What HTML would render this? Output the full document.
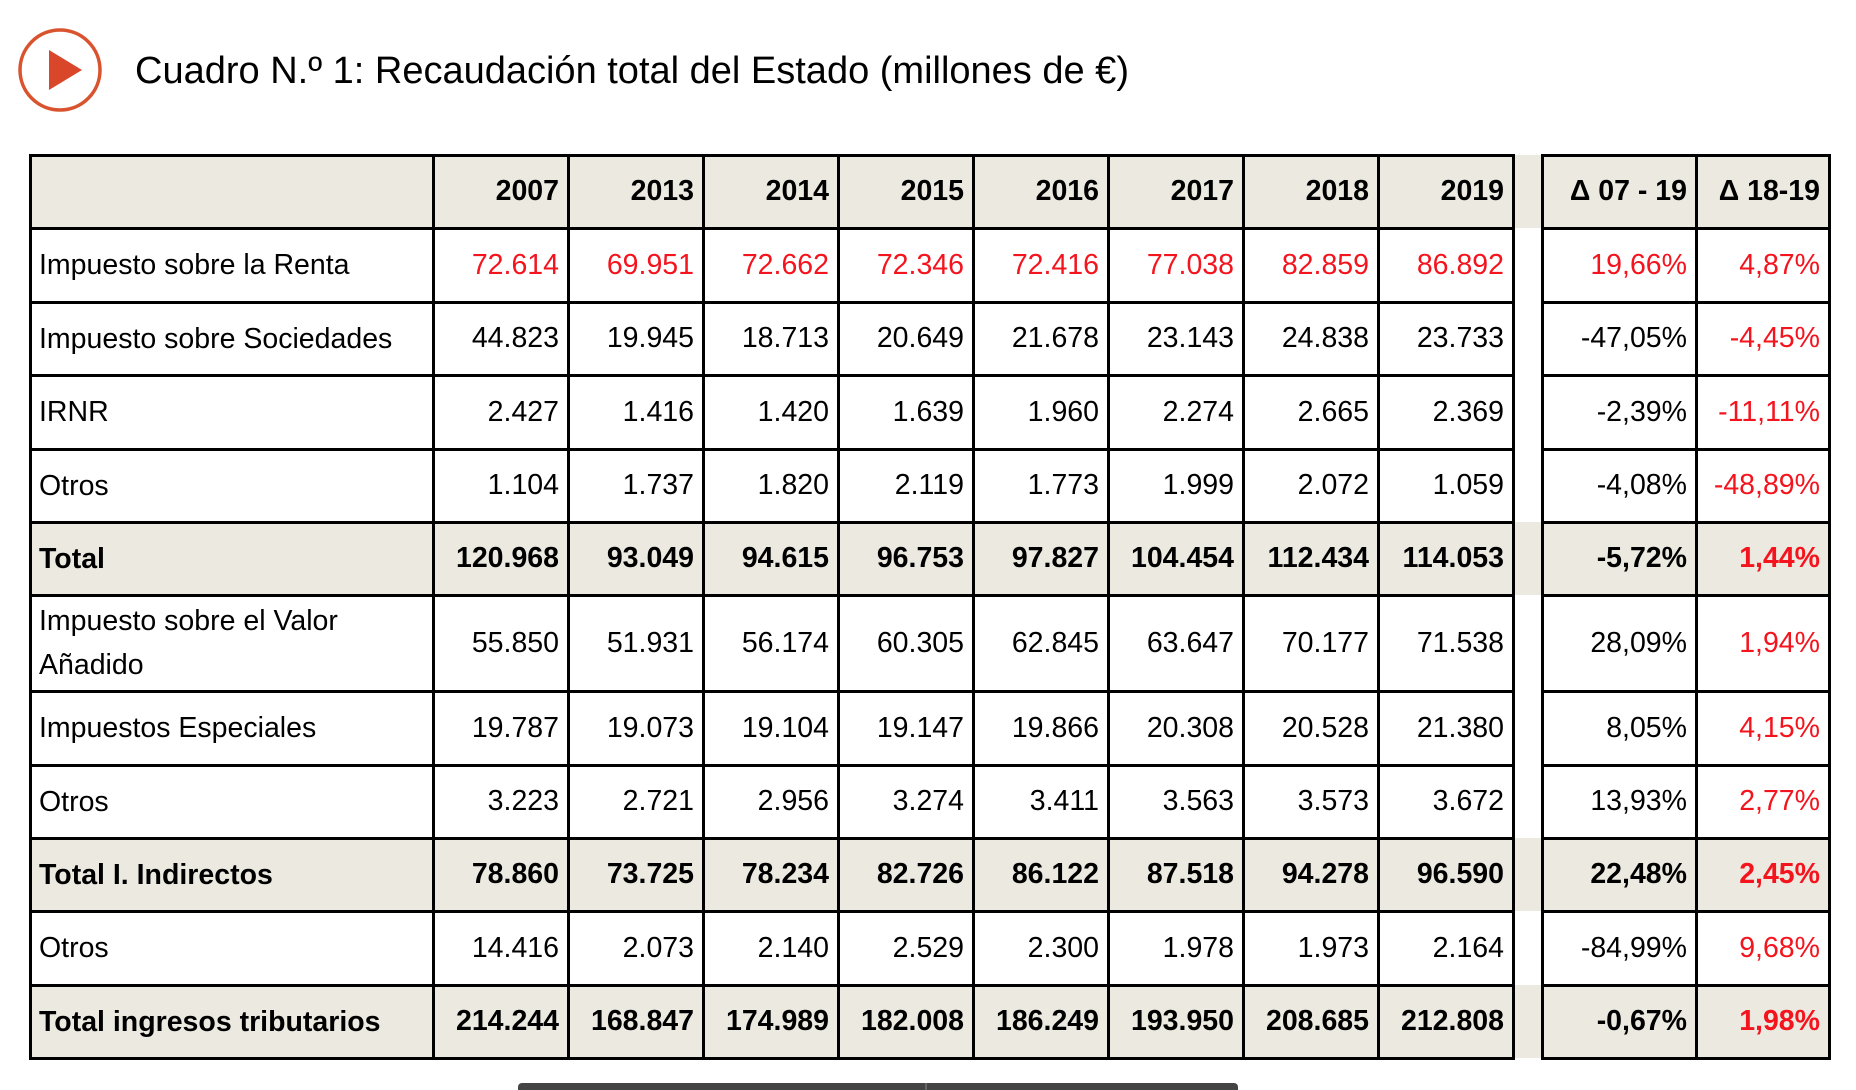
<!DOCTYPE html>
<html><head><meta charset="utf-8">
<style>
html,body{margin:0;padding:0;background:#fff;}
body{width:1856px;height:1090px;position:relative;overflow:hidden;font-family:"Liberation Sans",sans-serif;}
.c{position:absolute;box-sizing:border-box;display:flex;align-items:center;font-size:28.5px;color:#000;white-space:nowrap;}
.r{justify-content:flex-end;padding-right:9px;}
.l{justify-content:flex-start;padding-left:9px;line-height:44px;white-space:normal;}
.red{color:#f4141e;}
.b{font-weight:bold;}
.ln{position:absolute;background:#000;}
#title{position:absolute;left:135px;top:50px;font-size:38px;white-space:nowrap;}
</style></head>
<body>
<svg style="position:absolute;left:16px;top:26px" width="90" height="90">
<circle cx="44" cy="44" r="40" fill="none" stroke="#d9532e" stroke-width="3.5"/>
<polygon points="33,24 33,64 66,44" fill="#d9462a"/>
</svg>
<div id="title">Cuadro N.º 1: Recaudación total del Estado (millones de €)</div>
<div id="tbl"></div>
<div style="position:absolute;left:518px;top:1083px;width:720px;height:7px;background:#444;border-radius:4px 4px 0 0"></div>
<div style="position:absolute;left:925px;top:1083px;width:2px;height:7px;background:#666"></div>
<script>
const years=["2007","2013","2014","2015","2016","2017","2018","2019"];
const deltaHeaders=["Δ 07 - 19","Δ 18-19"];
const rowLabels=["Impuesto sobre la Renta","Impuesto sobre Sociedades","IRNR","Otros","Total","Impuesto sobre el Valor Añadido","Impuestos Especiales","Otros","Total I. Indirectos","Otros","Total ingresos tributarios"];
const values=[
["72.614","69.951","72.662","72.346","72.416","77.038","82.859","86.892"],
["44.823","19.945","18.713","20.649","21.678","23.143","24.838","23.733"],
["2.427","1.416","1.420","1.639","1.960","2.274","2.665","2.369"],
["1.104","1.737","1.820","2.119","1.773","1.999","2.072","1.059"],
["120.968","93.049","94.615","96.753","97.827","104.454","112.434","114.053"],
["55.850","51.931","56.174","60.305","62.845","63.647","70.177","71.538"],
["19.787","19.073","19.104","19.147","19.866","20.308","20.528","21.380"],
["3.223","2.721","2.956","3.274","3.411","3.563","3.573","3.672"],
["78.860","73.725","78.234","82.726","86.122","87.518","94.278","96.590"],
["14.416","2.073","2.140","2.529","2.300","1.978","1.973","2.164"],
["214.244","168.847","174.989","182.008","186.249","193.950","208.685","212.808"]];
const delta0719=["19,66%","-47,05%","-2,39%","-4,08%","-5,72%","28,09%","8,05%","13,93%","22,48%","-84,99%","-0,67%"];
const delta1819=["4,87%","-4,45%","-11,11%","-48,89%","1,44%","1,94%","4,15%","2,77%","2,45%","9,68%","1,98%"];
const boldRows=[4,8,10];
const redRows=[0];

const X=[30,433,568,703,838,973,1108,1243,1378,1513];
const X2=[1542,1696,1829];
const Y=[155,228,302,375,449,522,595,691,765,838,911,985,1058];
const t=document.getElementById('tbl');
function cell(x,y,w,h,txt,cls){const d=document.createElement('div');d.className='c '+cls;d.style.left=x+'px';d.style.top=y+'px';d.style.width=w+'px';d.style.height=h+'px';d.textContent=txt;t.appendChild(d);return d;}
function bg(x,y,w,h){const d=document.createElement('div');d.style.cssText='position:absolute;background:#ece9e1;left:'+x+'px;top:'+y+'px;width:'+w+'px;height:'+h+'px';


t.appendChild(d);}
bg(X[0],Y[0],X2[2]-X[0],Y[1]-Y[0]);
boldRows.forEach(r=>bg(X[0],Y[r+1],X2[2]-X[0],Y[r+2]-Y[r+1]));
years.forEach((yr,i)=>{const d=cell(X[i+1],Y[0],X[i+2]-X[i+1],Y[1]-Y[0],yr,'r b');

});
deltaHeaders.forEach((h,i)=>{const d=cell(X2[i],Y[0],X2[i+1]-X2[i],Y[1]-Y[0],h,'r b');

});
rowLabels.forEach((lab,r)=>{
 const y=Y[r+1],h=Y[r+2]-Y[r+1];const b=boldRows.includes(r)?' b':'';const red=redRows.includes(r)?' red':'';
 const d=cell(X[0],y,X[1]-X[0],h,lab,'l'+b);
 
 
 values[r].forEach((v,i)=>{const e=cell(X[i+1],y,X[i+2]-X[i+1],h,v,'r'+b+red);
 
 });
 const a=cell(X2[0],y,X2[1]-X2[0],h,delta0719[r],'r'+b+red);
 
 
 const c=cell(X2[1],y,X2[2]-X2[1],h,delta1819[r],'r'+b+' red');
 
 
});
function line(x,y,w,h){const d=document.createElement('div');d.className='ln';d.style.left=x+'px';d.style.top=y+'px';d.style.width=w+'px';d.style.height=h+'px';


t.appendChild(d);}
Y.forEach(y=>{line(X[0]-1,y-1.5,X[9]-X[0]+2,3);line(X2[0]-1,y-1.5,X2[2]-X2[0]+2,3);});
X.forEach(x=>line(x-1.5,Y[0]-1.5,3,Y[12]-Y[0]+3));
X2.forEach(x=>line(x-1.5,Y[0]-1.5,3,Y[12]-Y[0]+3));
</script>
</body></html>
